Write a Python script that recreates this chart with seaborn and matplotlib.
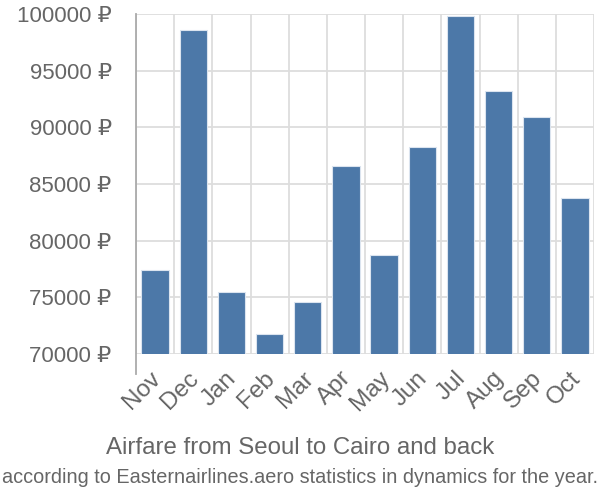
import matplotlib
matplotlib.use("Agg")
import matplotlib.pyplot as plt
import matplotlib.transforms as mtransforms
import seaborn as sns
import pandas as pd
import numpy as np
from matplotlib.ticker import FixedLocator

months = ["Nov", "Dec", "Jan", "Feb", "Mar", "Apr", "May", "Jun", "Jul", "Aug", "Sep", "Oct"]
prices = [77400, 98600, 75470, 71770, 74590, 86590, 78740, 88270, 99780, 93180, 90940, 83770]
yticks = [70000, 75000, 80000, 85000, 90000, 95000, 100000]
title = "Airfare from Seoul to Cairo and back"
subtitle = "according to Easternairlines.aero statistics in dynamics for the year."

sns.set_style("white")
plt.rcParams['font.family'] = ['Liberation Sans', 'DejaVu Sans']

df = pd.DataFrame({"month": months, "price": prices})

fig = plt.figure(figsize=(6, 5), dpi=100)
ax = fig.add_axes([136/600, 1-354/500, (594-136)/600, 340/500])

sns.barplot(data=df, x="month", y="price", color="#4c78a8", saturation=1,
            width=0.72, edgecolor="#dbe4ef", linewidth=0.8, ax=ax, zorder=3)

ax.set_ylim(70000, 100000)
ax.set_xlim(-0.5, len(months) - 0.5)
ax.set_yticks(yticks)
ax.set_yticklabels([f"{v} ₽" for v in yticks])
ax.xaxis.set_minor_locator(FixedLocator(np.arange(-0.5, len(months), 1.0)))
ax.grid(axis="y", which="major", color="#dddddd", linewidth=1.3, zorder=0)
ax.grid(axis="x", which="minor", color="#dddddd", linewidth=1.3, zorder=0)
ax.set_axisbelow(True)
for s in ["top", "right", "bottom"]:
    ax.spines[s].set_visible(False)
ax.spines["left"].set_color("#aaaaaa")
ax.spines["left"].set_linewidth(1.3)
ax.spines["left"].set_bounds(70000 - 20*30000/340, 100000)
ax.spines["left"].set_zorder(4)

ax.tick_params(axis="y", which="major", length=20, color="#dddddd", width=1.3,
               labelsize=16, labelcolor="#666666", pad=-2.5)
ax.tick_params(axis="x", which="minor", length=18, color="#dddddd", width=1.3)
ax.tick_params(axis="x", which="major", length=0, labelsize=17.5, labelcolor="#666666", pad=15)
offset = mtransforms.ScaledTranslation(2/100, 0, fig.dpi_scale_trans)
for lab in ax.get_xticklabels():
    lab.set_rotation(45)
    lab.set_ha("right")
    lab.set_va("center")
    lab.set_rotation_mode("anchor")
    lab.set_transform(lab.get_transform() + offset)
ax.set_xlabel("")
ax.set_ylabel("")

fig.text(0.5, 1 - 454/500, title, ha="center", va="baseline", fontsize=17.3, color="#666666")
fig.text(0.5, 1 - 483/500, subtitle, ha="center", va="baseline", fontsize=14.3, color="#666666")

fig.savefig("out.png", dpi=100)
